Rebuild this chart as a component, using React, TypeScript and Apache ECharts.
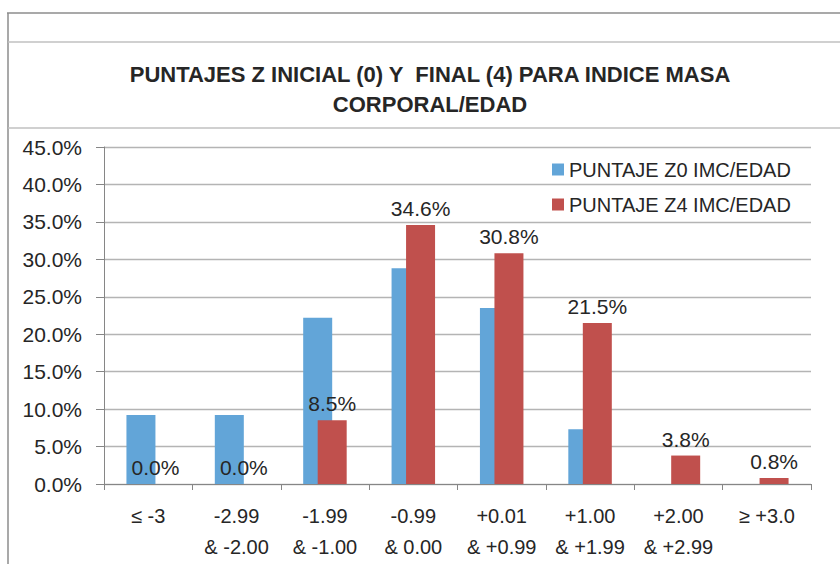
import React, { useEffect, useRef } from "react";
import * as echarts from "echarts";

const categories = [
  "≤ -3",
  "-2.99\n& -2.00",
  "-1.99\n& -1.00",
  "-0.99\n& 0.00",
  "+0.01\n& +0.99",
  "+1.00\n& +1.99",
  "+2.00\n& +2.99",
  "≥ +3.0",
];
const seriesNames = ["PUNTAJE Z0 IMC/EDAD", "PUNTAJE Z4 IMC/EDAD"];
const z0Values = [9.2, 9.2, 22.2, 28.8, 23.5, 7.3, 0, 0];
const z4Values = [0, 0, 8.5, 34.6, 30.8, 21.5, 3.8, 0.8];
const titleText = "PUNTAJES Z INICIAL (0) Y  FINAL (4) PARA INDICE MASA\nCORPORAL/EDAD";

const FONT = "'Liberation Sans', Arial, sans-serif";
const TEXT = "#262626";

export default function App() {
  const ref = useRef<HTMLDivElement>(null);
  useEffect(() => {
    if (!ref.current) return;
    const chart = echarts.init(ref.current, null, { renderer: "svg" });
    chart.setOption({
      animation: false,
      backgroundColor: "#ffffff",
      textStyle: { fontFamily: FONT },
      graphic: [
        { type: "line", shape: { x1: 7, y1: 13, x2: 840, y2: 13 }, style: { stroke: "#8c8c8c", lineWidth: 1.5 } },
        { type: "line", shape: { x1: 8, y1: 13, x2: 8, y2: 564 }, style: { stroke: "#8c8c8c", lineWidth: 1.5 } },
        { type: "line", shape: { x1: 8, y1: 42, x2: 840, y2: 42 }, style: { stroke: "#c0c0c0", lineWidth: 1.5 } },
        { type: "line", shape: { x1: 8, y1: 128, x2: 840, y2: 128 }, style: { stroke: "#c0c0c0", lineWidth: 1.5 } },
        {
          type: "text",
          x: 430,
          y: 89,
          style: {
            text: titleText,
            align: "center",
            verticalAlign: "middle",
            fontFamily: FONT,
            fontWeight: "bold",
            fontSize: 22,
            lineHeight: 30,
            fill: TEXT,
          },
        },
      ],
      legend: {
        orient: "vertical",
        left: 547,
        top: 154,
        itemWidth: 12,
        itemHeight: 12,
        itemGap: 14,
        icon: "rect",
        textStyle: { fontSize: 20, lineHeight: 21, color: TEXT, fontFamily: FONT },
        data: seriesNames,
      },
      grid: { left: 104, right: 29, top: 147, bottom: 80, containLabel: false },
      xAxis: {
        type: "category",
        data: categories,
        axisLine: { show: true, lineStyle: { color: "#868686", width: 1 } },
        axisTick: { show: true, length: 6, alignWithLabel: false, lineStyle: { color: "#868686" } },
        axisLabel: {
          interval: 0,
          margin: 16,
          fontSize: 20,
          lineHeight: 31,
          color: TEXT,
          fontFamily: FONT,
        },
      },
      yAxis: {
        type: "value",
        min: 0,
        max: 45,
        interval: 5,
        axisLine: { show: true, lineStyle: { color: "#868686", width: 1 } },
        axisTick: { show: true, length: 8, lineStyle: { color: "#868686" } },
        splitLine: { show: true, lineStyle: { color: "#b4b4b4", width: 1.3 } },
        axisLabel: {
          margin: 22,
          fontSize: 21,
          color: TEXT,
          fontFamily: FONT,
          formatter: (v: number) => v.toFixed(1) + "%",
        },
      },
      series: [
        {
          name: seriesNames[0],
          type: "bar",
          data: z0Values,
          barWidth: 29,
          barGap: "-50%",
          itemStyle: { color: "#62a5d8" },
        },
        {
          name: seriesNames[1],
          type: "bar",
          data: z4Values,
          barWidth: 29,
          barGap: "-50%",
          itemStyle: { color: "#c0504d" },
          label: {
            show: true,
            position: "top",
            distance: 6,
            fontSize: 21,
            color: TEXT,
            fontFamily: FONT,
            formatter: (p: any) => Number(p.value).toFixed(1) + "%",
          },
        },
      ],
    });
    return () => chart.dispose();
  }, []);
  return (
    <div
      ref={ref}
      style={{ position: "absolute", left: 0, top: 0, width: 840, height: 564 }}
    />
  );
}
